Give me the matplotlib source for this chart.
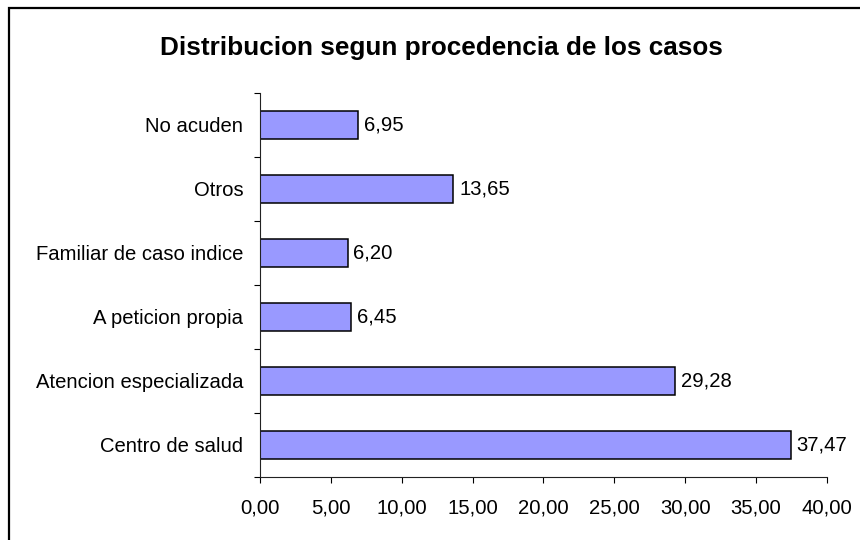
import matplotlib.pyplot as plt
from matplotlib.patches import Rectangle

# categorias de abajo hacia arriba
categorias = ['Centro de salud', 'Atencion especializada', 'A peticion propia',
              'Familiar de caso indice', 'Otros', 'No acuden']
valores = [37.47, 29.28, 6.45, 6.20, 13.65, 6.95]
xticks = [0, 5, 10, 15, 20, 25, 30, 35, 40]
titulo = 'Distribucion segun procedencia de los casos'


def coma(v):
    return f'{v:.2f}'.replace('.', ',')


plt.rcParams['font.family'] = ['Liberation Sans', 'DejaVu Sans']
fs = 14.6

fig = plt.figure(figsize=(8.6, 5.4), dpi=100)
ax = fig.add_axes([0.3023, 0.1167, 0.6593, 0.7111])

pos = list(range(len(categorias)))
ax.barh(pos, valores, height=0.44, color='#9999FF', edgecolor='black', linewidth=1.1)

# etiquetas de valor al final de cada barra
for p, v in zip(pos, valores):
    ax.annotate(coma(v), (v, p), xytext=(4, 0), textcoords='offset points',
                ha='left', va='center', fontsize=fs)

ax.set_xlim(0, 40)
ax.set_ylim(-0.5, len(categorias) - 0.5)
ax.set_xticks(xticks)
ax.set_xticklabels([coma(t) for t in xticks], fontsize=fs)
ax.set_yticks(pos)
ax.set_yticklabels(categorias, fontsize=fs)
ax.set_yticks([p - 0.5 for p in pos] + [len(pos) - 0.5], minor=True)

ax.tick_params(axis='y', which='major', length=0, pad=12)
ax.tick_params(axis='y', which='minor', length=4.5, width=0.8, direction='out')
ax.tick_params(axis='x', which='major', length=4.5, width=0.8, direction='out', pad=11)

for s in ['top', 'right']:
    ax.spines[s].set_visible(False)
for s in ['left', 'bottom']:
    ax.spines[s].set_linewidth(0.8)
    ax.spines[s].set_color('#222222')

fig.text(0.513, 0.912, titulo, ha='center', va='center', fontsize=18.8, fontweight='bold')

# borde exterior del grafico (solo se ven arriba e izquierda)
fig.patches.append(Rectangle((9 / 860, -0.02), 1.05, 1 - 8 / 540 + 0.02,
                             transform=fig.transFigure, fill=False,
                             edgecolor='black', linewidth=1.6))

fig.savefig('out.png', dpi=100)
